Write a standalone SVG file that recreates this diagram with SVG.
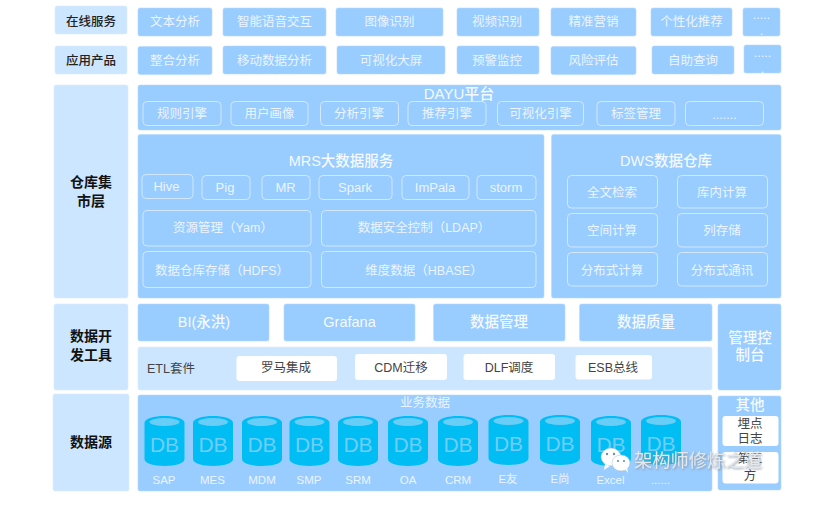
<svg xmlns="http://www.w3.org/2000/svg" width="835" height="510" viewBox="0 0 835 510">
<style>
text{font-family:"Liberation Sans","Noto Sans CJK SC",sans-serif;text-anchor:middle;font-size:12.5px;fill:#ebf5ff}
.d{fill:#99ccff;stroke:#b5daff;stroke-width:.6}
.l{fill:#cce6ff;stroke:#d9edff;stroke-width:.6}
.o{fill:none;stroke:#d2e8ff;stroke-width:1}
.w{fill:#fff}
.k{font-size:12.5px;fill:#222;font-weight:500}
.h{font-size:14px;fill:#111;font-weight:700}
.t{font-size:14.5px;fill:#f5faff;font-weight:500}
.g{fill:#444}
.db{font-size:21px;fill:#6fcdf7}
.c{font-size:11.5px}
.wm{font-size:18.300px;fill:#e4e9ee;filter:drop-shadow(1px 1px 1px #8a97a5);text-anchor:start}
</style>
<defs>
<g id="cyl">
<path d="M0 7C0 -2.300 40 -2.300 40 7V43C40 52.300 0 52.300 0 43Z" fill="#00bdf4"/>
<ellipse cx="20" cy="6" rx="15" ry="4" fill="#68cdf7"/>
</g>
</defs>
<g id="connectors"/>
<g id="layer-online"><rect class="l" x="55" y="6" width="72" height="28" rx="2"/><text class="k" x="91" y="26">在线服务</text></g>
<g id="layer-product"><rect class="l" x="55" y="46" width="72" height="28" rx="2"/><text class="k" x="91" y="65">应用产品</text></g>
<g id="layer-warehouse"><rect class="l" x="54" y="85" width="74" height="213" rx="2"/><text class="h" x="91" y="187">仓库集</text><text class="h" x="91" y="206">市层</text></g>
<g id="layer-devtools"><rect class="l" x="54" y="304" width="74" height="86" rx="2"/><text class="h" x="91" y="341">数据开</text><text class="h" x="91" y="360">发工具</text></g>
<g id="layer-source"><rect class="l" x="53" y="394" width="76" height="97" rx="2"/><text class="h" x="91" y="447">数据源</text></g>

<g id="n-text"><rect class="d" x="138" y="8" width="74" height="28" rx="2"/><text x="175" y="26">文本分析</text></g>
<g id="n-voice"><rect class="d" x="223" y="8" width="103" height="28" rx="2"/><text x="274.500" y="26">智能语音交互</text></g>
<g id="n-image"><rect class="d" x="336" y="8" width="107" height="28" rx="2"/><text x="389.500" y="26">图像识别</text></g>
<g id="n-video"><rect class="d" x="457" y="8" width="82" height="28" rx="2"/><text x="497" y="26">视频识别</text></g>
<g id="n-market"><rect class="d" x="551" y="8" width="85" height="28" rx="2"/><text x="593.500" y="26">精准营销</text></g>
<g id="n-recommend"><rect class="d" x="651" y="8" width="81" height="28" rx="2"/><text x="691.500" y="26">个性化推荐</text></g>
<g id="n-more1"><rect class="d" x="743" y="8" width="37" height="28" rx="2"/><text x="761.500" y="19">.....</text><text x="761.500" y="35">.</text></g>

<g id="n-integrate"><rect class="d" x="138" y="46.500" width="74" height="28" rx="2"/><text x="175" y="65">整合分析</text></g>
<g id="n-mobile"><rect class="d" x="223" y="46" width="103" height="28" rx="2"/><text x="274.500" y="65">移动数据分析</text></g>
<g id="n-screen"><rect class="d" x="337" y="46" width="108" height="28" rx="2"/><text x="391" y="65">可视化大屏</text></g>
<g id="n-alert"><rect class="d" x="457" y="46" width="82" height="28" rx="2"/><text x="497" y="65">预警监控</text></g>
<g id="n-risk"><rect class="d" x="551" y="46.500" width="85" height="28" rx="2"/><text x="593.500" y="65">风险评估</text></g>
<g id="n-query"><rect class="d" x="652" y="46" width="82" height="28" rx="2"/><text x="693" y="65">自助查询</text></g>
<g id="n-more2"><rect class="d" x="744" y="45" width="37" height="28" rx="2"/><text x="762.500" y="57">.....</text><text x="762.500" y="73">.</text></g>

<g id="n-dayu"><rect class="d" x="138" y="85" width="643" height="45" rx="2"/><text class="t" x="459" y="99" style="font-size:15px">DAYU平台</text></g>
<g id="n-rule"><rect class="o" x="143" y="101.500" width="78" height="24" rx="4"/><text x="182" y="118">规则引擎</text></g>
<g id="n-user"><rect class="o" x="231" y="101.500" width="77" height="24" rx="4"/><text x="269.500" y="118">用户画像</text></g>
<g id="n-analysis"><rect class="o" x="320.500" y="101.500" width="78" height="24" rx="4"/><text x="359" y="118">分析引擎</text></g>
<g id="n-recengine"><rect class="o" x="408" y="101.500" width="78" height="24" rx="4"/><text x="447" y="118">推荐引擎</text></g>
<g id="n-visengine"><rect class="o" x="497.500" y="101.500" width="86" height="24" rx="4"/><text x="540.500" y="118">可视化引擎</text></g>
<g id="n-tag"><rect class="o" x="597" y="101.500" width="78" height="24" rx="4"/><text x="636" y="118">标签管理</text></g>
<g id="n-more3"><rect class="o" x="685.500" y="101.500" width="78" height="24" rx="4"/><text x="724.500" y="119">.......</text></g>

<g id="n-mrs"><rect class="d" x="138" y="134.500" width="406" height="163.500" rx="2"/><text class="t" x="341" y="166">MRS大数据服务</text></g>
<g id="n-hive"><rect class="o" x="142" y="174.500" width="51" height="24" rx="4"/><text x="166.500" y="191" style="font-size:13px">Hive</text></g>
<g id="n-pig"><rect class="o" x="202" y="175.500" width="48" height="24" rx="4"/><text x="225" y="192" style="font-size:13px">Pig</text></g>
<g id="n-mr"><rect class="o" x="262" y="175.500" width="48" height="24" rx="4"/><text x="285.500" y="192" style="font-size:13px">MR</text></g>
<g id="n-spark"><rect class="o" x="319" y="175.500" width="73" height="24" rx="4"/><text x="355" y="192" style="font-size:13px">Spark</text></g>
<g id="n-impala"><rect class="o" x="402" y="175.500" width="67" height="24" rx="4"/><text x="435" y="192" style="font-size:13px">ImPala</text></g>
<g id="n-storm"><rect class="o" x="477" y="175.500" width="59" height="24" rx="4"/><text x="506" y="192" style="font-size:13px">storm</text></g>
<g id="n-yarn"><rect class="o" x="143" y="210.500" width="168" height="35.500" rx="4"/><text x="223" y="232">资源管理（Yam）</text></g>
<g id="n-ldap"><rect class="o" x="321.500" y="210.500" width="214.500" height="35.500" rx="4"/><text x="424" y="232">数据安全控制（LDAP）</text></g>
<g id="n-hdfs"><rect class="o" x="143" y="251.500" width="168" height="36" rx="4"/><text x="222" y="274.500">数据仓库存储（HDFS）</text></g>
<g id="n-hbase"><rect class="o" x="321.500" y="251.500" width="214.500" height="36" rx="4"/><text x="424" y="274.500">维度数据（HBASE）</text></g>

<g id="n-dws"><rect class="d" x="551.500" y="134.500" width="229.500" height="163.500" rx="2"/><text class="t" x="666" y="166">DWS数据仓库</text></g>
<g id="n-fulltext"><rect class="o" x="567.500" y="175.500" width="90" height="32.500" rx="4"/><text x="612" y="196.500">全文检索</text></g>
<g id="n-incalc"><rect class="o" x="677.500" y="175.500" width="90" height="32.500" rx="4"/><text x="722" y="196.500">库内计算</text></g>
<g id="n-space"><rect class="o" x="567.500" y="213.500" width="90" height="33.500" rx="4"/><text x="612" y="235">空间计算</text></g>
<g id="n-column"><rect class="o" x="677.500" y="213.500" width="90" height="33.500" rx="4"/><text x="722" y="235">列存储</text></g>
<g id="n-discalc"><rect class="o" x="567.500" y="252.500" width="90" height="33.500" rx="4"/><text x="612" y="274.500">分布式计算</text></g>
<g id="n-discomm"><rect class="o" x="677.500" y="252.500" width="90" height="33.500" rx="4"/><text x="722" y="274.500">分布式通讯</text></g>

<g id="n-bi"><rect class="d" x="138" y="304" width="131" height="37" rx="2"/><text class="t" x="204" y="327">BI(永洪)</text></g>
<g id="n-grafana"><rect class="d" x="284" y="304" width="131" height="37" rx="2"/><text class="t" x="349.500" y="327">Grafana</text></g>
<g id="n-datamgmt"><rect class="d" x="433.500" y="304" width="131.500" height="37" rx="2"/><text class="t" x="499" y="327">数据管理</text></g>
<g id="n-quality"><rect class="d" x="579.500" y="304" width="132.500" height="37" rx="2"/><text class="t" x="646" y="327">数据质量</text></g>
<g id="n-console"><rect class="d" x="718" y="304" width="63" height="86" rx="2"/><text class="t" x="750" y="343">管理控</text><text class="t" x="750" y="360">制台</text></g>

<g id="n-etl"><rect class="l" x="138" y="347" width="574" height="43" rx="2"/><text class="g" x="171" y="372.500">ETL套件</text></g>
<g id="n-roma"><rect class="w" x="236.500" y="356" width="100.500" height="25" rx="3"/><text class="g" x="286" y="372">罗马集成</text></g>
<g id="n-cdm"><rect class="w" x="355" y="354" width="92" height="26" rx="3"/><text class="g" x="401" y="371.500">CDM迁移</text></g>
<g id="n-dlf"><rect class="w" x="463.500" y="354" width="91.500" height="26" rx="3"/><text class="g" x="509" y="371.500">DLF调度</text></g>
<g id="n-esb"><rect class="w" x="575.500" y="355" width="76.500" height="24.500" rx="3"/><text class="g" x="613" y="371.500">ESB总线</text></g>

<g id="n-bizdata"><rect class="d" x="138" y="395" width="574" height="96" rx="2"/><text x="425" y="406.500">业务数据</text></g>
<g id="db-sap"><use href="#cyl" x="144.500" y="416"/><text class="db" x="164.500" y="452">DB</text><text class="c" x="164" y="484">SAP</text></g>
<g id="db-mes"><use href="#cyl" x="193" y="416"/><text class="db" x="213" y="452">DB</text><text class="c" x="212.500" y="484">MES</text></g>
<g id="db-mdm"><use href="#cyl" x="242" y="416"/><text class="db" x="262" y="452">DB</text><text class="c" x="262" y="484">MDM</text></g>
<g id="db-smp"><use href="#cyl" x="289.500" y="416"/><text class="db" x="309.500" y="452">DB</text><text class="c" x="309" y="484">SMP</text></g>
<g id="db-srm"><use href="#cyl" x="338" y="416"/><text class="db" x="358" y="452">DB</text><text class="c" x="358" y="484">SRM</text></g>
<g id="db-oa"><use href="#cyl" x="388" y="416"/><text class="db" x="408" y="452">DB</text><text class="c" x="408" y="484">OA</text></g>
<g id="db-crm"><use href="#cyl" x="438" y="416"/><text class="db" x="458" y="452">DB</text><text class="c" x="458" y="484">CRM</text></g>
<g id="db-eyou"><use href="#cyl" x="488.500" y="415"/><text class="db" x="508.500" y="451">DB</text><text class="c" x="508" y="483">E友</text></g>
<g id="db-eshang"><use href="#cyl" x="540" y="415"/><text class="db" x="560" y="451">DB</text><text class="c" x="560" y="483">E尚</text></g>
<g id="db-excel"><use href="#cyl" x="591" y="416"/><text class="db" x="611" y="452">DB</text><text class="c" x="610.500" y="484">Excel</text></g>
<g id="db-more"><use href="#cyl" x="641" y="415"/><text class="db" x="661" y="451">DB</text><text class="c" x="660.500" y="484">......</text></g>

<g id="n-other"><rect class="d" x="718" y="396" width="63" height="94" rx="2"/><text class="t" x="750" y="410">其他</text></g>
<g id="n-track"><rect class="w" x="722.500" y="416" width="56" height="30" rx="3"/><text class="g" x="750" y="427.500">埋点</text><text class="g" x="750" y="443">日志</text></g>
<g id="n-third"><rect class="w" x="722.500" y="452" width="56" height="31.500" rx="3"/><text class="g" x="750" y="462.500">第三</text><text class="g" x="750" y="480">方</text></g>

<g id="watermark">
<ellipse cx="611" cy="457" rx="10" ry="9" fill="#fff" stroke="#a9bccd" stroke-width=".5"/>
<path d="M605 464l-1 6 6-4z" fill="#fff"/>
<ellipse cx="621" cy="463" rx="9" ry="8" fill="#fff" stroke="#a9bccd" stroke-width=".5"/>
<path d="M625 469l3 4-1-6z" fill="#fff"/>
<circle cx="607" cy="454" r="1.200" fill="#6f8fa8"/><circle cx="614" cy="454" r="1.200" fill="#6f8fa8"/>
<circle cx="618" cy="461" r="1.100" fill="#6f8fa8"/><circle cx="624" cy="461" r="1.100" fill="#6f8fa8"/>
<text class="wm" x="634" y="467">架构师修炼之道</text>
</g>
</svg>
